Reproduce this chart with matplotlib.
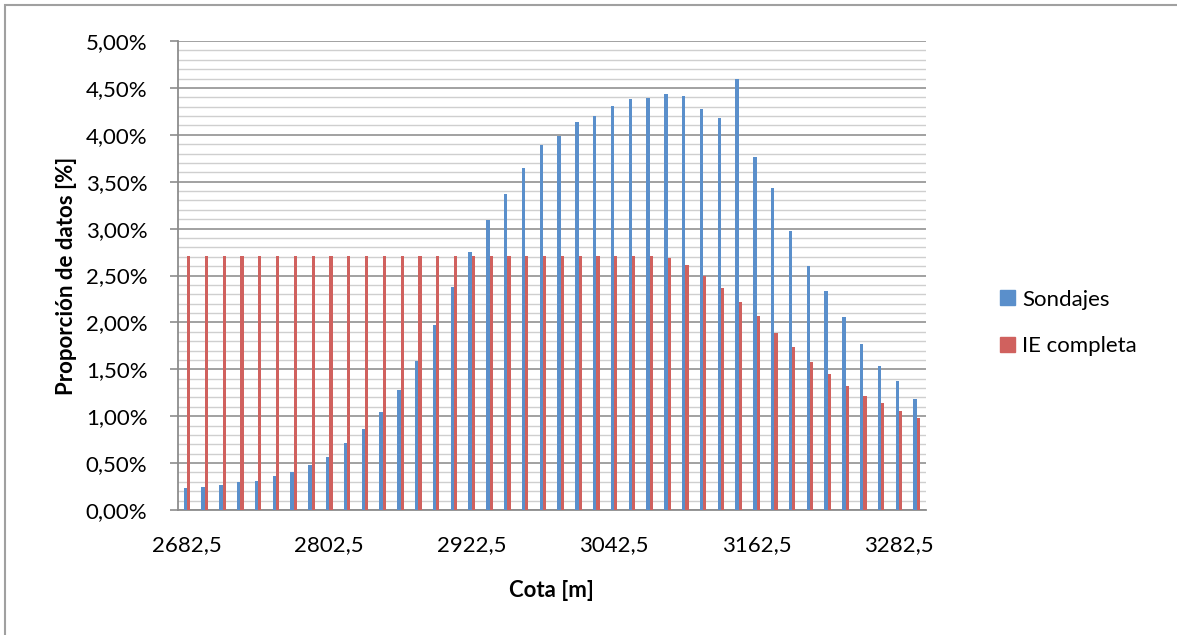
import matplotlib
matplotlib.use("Agg")
import matplotlib.pyplot as plt
from matplotlib.patches import Rectangle, Patch
from matplotlib.ticker import MultipleLocator, FuncFormatter
import numpy as np

# Data (values in %)
cota = [2682.5, 2697.5, 2712.5, 2727.5, 2742.5, 2757.5, 2772.5, 2787.5,
        2802.5, 2817.5, 2832.5, 2847.5, 2862.5, 2877.5, 2892.5, 2907.5,
        2922.5, 2937.5, 2952.5, 2967.5, 2982.5, 2997.5, 3012.5, 3027.5,
        3042.5, 3057.5, 3072.5, 3087.5, 3102.5, 3117.5, 3132.5, 3147.5,
        3162.5, 3177.5, 3192.5, 3207.5, 3222.5, 3237.5, 3252.5, 3267.5,
        3282.5, 3297.5]

sondajes = [0.23, 0.25, 0.27, 0.30, 0.31, 0.36, 0.41, 0.48, 0.57, 0.71,
            0.86, 1.04, 1.28, 1.59, 1.97, 2.38, 2.75, 3.09, 3.37, 3.65,
            3.89, 3.99, 4.14, 4.20, 4.31, 4.38, 4.39, 4.44, 4.41, 4.27,
            4.18, 4.59, 3.76, 3.43, 2.97, 2.60, 2.34, 2.06, 1.77, 1.54,
            1.37, 1.18]

ie_completa = [2.71, 2.71, 2.71, 2.71, 2.71, 2.71, 2.71, 2.71, 2.71, 2.71,
               2.71, 2.71, 2.71, 2.71, 2.71, 2.71, 2.71, 2.71, 2.71, 2.71,
               2.71, 2.71, 2.71, 2.71, 2.71, 2.71, 2.71, 2.69, 2.61, 2.50,
               2.37, 2.22, 2.07, 1.89, 1.74, 1.58, 1.45, 1.32, 1.22, 1.14,
               1.06, 0.98]

blue = "#5A8FCB"
red = "#D0615E"

plt.rcParams['font.family'] = ['Lato', 'DejaVu Sans']

fig = plt.figure(figsize=(11.77, 6.35), dpi=100)
ax = fig.add_axes([178 / 1177, 1 - 510 / 635, (925.6 - 178) / 1177, (510 - 41) / 635])

x = np.arange(len(cota))
w = 0.19
ax.bar(x - w / 2, sondajes, width=w, color=blue, label="Sondajes", zorder=3)
ax.bar(x + w / 2, ie_completa, width=w, color=red, label="IE completa", zorder=3)

ax.set_xlim(-0.5, len(cota) - 0.5)
ax.set_ylim(0, 5)

# y axis: major every 0.5%, minor every 0.1%
ax.yaxis.set_major_locator(MultipleLocator(0.5))
ax.yaxis.set_minor_locator(MultipleLocator(0.1))
ax.yaxis.set_major_formatter(FuncFormatter(lambda v, p: f"{v:.2f}%".replace(".", ",")))
ax.grid(True, axis="y", which="major", color="#9a9a9a", linewidth=1.3, zorder=0)
ax.grid(True, axis="y", which="minor", color="#cfcfcf", linewidth=1.0, zorder=0)
ax.tick_params(axis="y", which="major", length=6, width=1.2, color="#8c8c8c",
               pad=16, labelsize=16)
ax.tick_params(axis="y", which="minor", length=0)

# x axis: label every 8th category
ax.set_xticks(x[::8])
ax.set_xticklabels([f"{c:.1f}".replace(".", ",") for c in cota[::8]])
ax.tick_params(axis="x", length=0, pad=18, labelsize=16)

for s in ["top", "right"]:
    ax.spines[s].set_visible(False)
for s in ["left", "bottom"]:
    ax.spines[s].set_color("#8c8c8c")
    ax.spines[s].set_linewidth(1.3)

ax.set_xlabel("Cota [m]", fontsize=16, fontweight="bold", labelpad=18)
ax.set_ylabel("Proporción de datos [%]", fontsize=16, fontweight="bold", labelpad=6)

handles = [Patch(color=blue, label="Sondajes"), Patch(color=red, label="IE completa")]
fig.legend(handles=handles, loc="center left", bbox_to_anchor=(1000 / 1177, 1 - 323 / 635),
           frameon=False, fontsize=16, handlelength=0.66, handleheight=0.66,
           handletextpad=0.35, labelspacing=1.2, borderpad=0, borderaxespad=0)

# outer chart border (top and left edges visible)
fig.patches.append(Rectangle((5 / 1177, -0.05), 1.1, 1 - 5 / 635 + 0.05,
                             transform=fig.transFigure, fill=False,
                             edgecolor="#a0a0a0", linewidth=1.5))

fig.savefig("out.png", dpi=100)
